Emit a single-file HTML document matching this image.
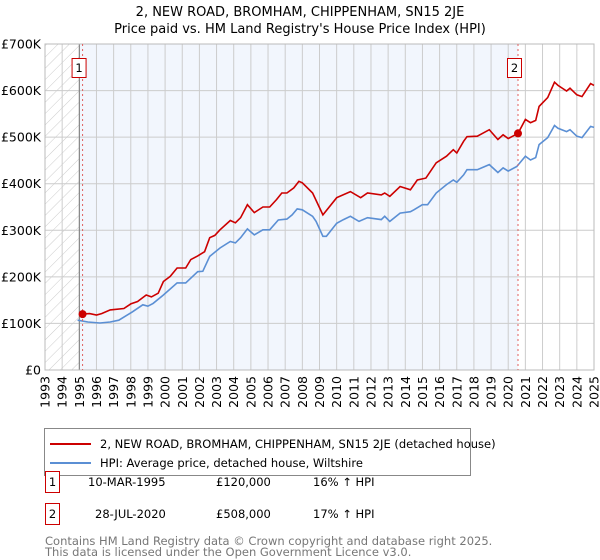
<!DOCTYPE html>
<html><head><meta charset="utf-8"><style>
body{margin:0;background:#fff;font-family:"Liberation Sans","DejaVu Sans",sans-serif;}
svg{display:block}
</style></head><body>
<svg width="600" height="560" xmlns="http://www.w3.org/2000/svg" font-family="DejaVu Sans, Liberation Sans, sans-serif">
<defs>
<pattern id="hatch" width="8" height="8" patternUnits="userSpaceOnUse" patternTransform="rotate(45)">
<line x1="0" y1="0" x2="0" y2="8" stroke="#ccc" stroke-width="1"/></pattern>
</defs>
<text x="300" y="16" text-anchor="middle" font-size="13">2, NEW ROAD, BROMHAM, CHIPPENHAM, SN15 2JE</text>
<text x="300" y="33" text-anchor="middle" font-size="13">Price paid vs. HM Land Registry's House Price Index (HPI)</text>
<g id="plot"></g>
<g id="legend">
<rect x="44.5" y="428.5" width="426" height="47" fill="#fff" stroke="#888"/>
<line x1="50" y1="444" x2="91" y2="444" stroke="#cc0000" stroke-width="2"/>
<text x="100" y="448" font-size="11.5">2, NEW ROAD, BROMHAM, CHIPPENHAM, SN15 2JE (detached house)</text>
<line x1="50" y1="463" x2="91" y2="463" stroke="#5b8fd4" stroke-width="2"/>
<text x="100" y="467" font-size="11.5">HPI: Average price, detached house, Wiltshire</text>
</g>
<g font-size="11.5">
<rect x="45.5" y="471.5" width="14" height="21" fill="#fff" stroke="#cc0000"/>
<text x="52.5" y="486" text-anchor="middle">1</text>
<text x="88" y="486">10-MAR-1995</text>
<text x="216" y="486">£120,000</text>
<text x="313" y="486">16% ↑ HPI</text>
<rect x="45.5" y="503.5" width="14" height="21" fill="#fff" stroke="#cc0000"/>
<text x="52.5" y="518" text-anchor="middle">2</text>
<text x="95" y="518">28-JUL-2020</text>
<text x="216" y="518">£508,000</text>
<text x="313" y="518">17% ↑ HPI</text>
</g>
<text x="45" y="545" font-size="11.5" fill="#777">Contains HM Land Registry data © Crown copyright and database right 2025.</text>
<text x="45" y="556" font-size="11.5" fill="#777">This data is licensed under the Open Government Licence v3.0.</text>
</svg>
<script>
const yTicks=[0,100,200,300,400,500,600,700];
const yTickLabels=["£0","£100K","£200K","£300K","£400K","£500K","£600K","£700K"];
const xYears=[1993,1994,1995,1996,1997,1998,1999,2000,2001,2002,2003,2004,2005,2006,2007,2008,2009,2010,2011,2012,2013,2014,2015,2016,2017,2018,2019,2020,2021,2022,2023,2024,2025];
const hpiDates=[1994.9,1995.5,1996.2,1996.8,1997.3,1998.1,1998.7,1999.0,1999.3,1999.9,2000.7,2001.2,2001.9,2002.2,2002.6,2003.2,2003.8,2004.1,2004.4,2004.8,2005.2,2005.7,2006.1,2006.6,2007.1,2007.4,2007.7,2008.0,2008.6,2008.8,2009.2,2009.4,2010.0,2010.4,2010.8,2011.3,2011.8,2012.6,2012.8,2013.1,2013.7,2014.3,2014.5,2015.0,2015.3,2015.8,2016.4,2016.8,2017.0,2017.4,2017.6,2018.2,2018.9,2019.4,2019.7,2020.0,2020.5,2021.0,2021.3,2021.6,2021.8,2022.3,2022.7,2022.9,2023.4,2023.6,2024.0,2024.3,2024.8,2025.0];
const hpiValues=[107,103,101,103,107,125,140,137,143,161,187,187,211,212,244,262,276,273,284,303,290,301,301,322,324,333,346,344,330,319,287,287,315,323,330,319,327,323,330,319,337,340,344,355,355,380,398,408,403,419,430,430,441,424,434,427,437,459,451,456,484,499,525,519,512,516,502,499,523,521];
const priceDates=[1995.2,1995.6,1996.0,1996.3,1996.8,1997.6,1998.0,1998.4,1998.9,1999.2,1999.6,1999.9,2000.3,2000.7,2001.2,2001.5,2001.9,2002.3,2002.6,2002.9,2003.2,2003.8,2004.1,2004.4,2004.8,2005.2,2005.7,2006.1,2006.5,2006.8,2007.1,2007.5,2007.8,2008.0,2008.6,2009.2,2010.0,2010.8,2011.4,2011.8,2012.6,2012.8,2013.1,2013.7,2014.3,2014.7,2015.2,2015.8,2016.4,2016.8,2017.0,2017.4,2017.6,2018.2,2018.9,2019.4,2019.7,2020.0,2020.57,2021.0,2021.3,2021.6,2021.8,2022.3,2022.7,2022.9,2023.4,2023.6,2024.0,2024.3,2024.8,2025.0];
const priceValues=[120,121,118,121,129,132,142,147,161,157,165,190,201,219,219,237,245,254,284,289,301,321,316,327,355,338,350,350,366,380,380,391,405,402,380,333,370,383,370,380,376,380,373,394,387,408,412,445,459,473,466,491,501,502,516,495,505,497,508,538,531,536,566,585,618,611,599,605,591,587,615,611];
const saleDates=[1995.19,2020.57];
const saleValues=[120,508];
const saleLabels=["1","2"];

const NS="http://www.w3.org/2000/svg";
const X0=45,X1=594,Y0=370,Y1=44;
const xs=y=>X0+(y-1993)/(2025-1993)*(X1-X0);
const ys=v=>Y0-v/700*(Y0-Y1);
const plot=document.getElementById('plot');
function mk(tag,attrs,parent){const e=document.createElementNS(NS,tag);for(const k in attrs)e.setAttribute(k,attrs[k]);(parent||plot).appendChild(e);return e;}
const bg=mk('rect',{x:X0,y:Y1,width:X1-X0,height:Y0-Y1,fill:'#fff'});


const hatch=mk('rect',{x:X0,y:Y1,width:xs(1995)-X0,height:Y0-Y1,fill:'url(#hatch)'});


const shade=mk('rect',{x:xs(1995),y:Y1,width:xs(saleDates[1])-xs(1995),height:Y0-Y1,fill:'#f2f6fd'});


xYears.forEach(yr=>{const l=mk('line',{x1:xs(yr),x2:xs(yr),y1:Y1,y2:Y0,stroke:'#ccc','stroke-width':1});


const t=mk('text',{x:0,y:0,'font-size':12.5,'text-anchor':'end',transform:`translate(${xs(yr)+4.5},${Y0+6}) rotate(-90)`});
t.textContent=yr;

});
yTicks.forEach((v,i)=>{const l=mk('line',{x1:X0,x2:X1,y1:ys(v),y2:ys(v),stroke:'#ccc','stroke-width':1});


const t=mk('text',{x:41,y:ys(v)+4.5,'font-size':12.5,'text-anchor':'end'});
t.textContent=yTickLabels[i];

});
const vl=mk('line',{x1:xs(1995),x2:xs(1995),y1:Y1,y2:Y0,stroke:'#777','stroke-width':1});


const frame=mk('rect',{x:X0,y:Y1,width:X1-X0,height:Y0-Y1,fill:'none',stroke:'#bbb'});


const pts=(d,v)=>d.map((t,i)=>xs(t).toFixed(1)+','+ys(v[i]).toFixed(1)).join(' ');
const hl=mk('polyline',{points:pts(hpiDates,hpiValues),fill:'none',stroke:'#5b8fd4','stroke-width':1.6});


const pl=mk('polyline',{points:pts(priceDates,priceValues),fill:'none',stroke:'#cc0000','stroke-width':1.6});


saleDates.forEach((d,i)=>{const dl=mk('line',{x1:xs(d),x2:xs(d),y1:Y1,y2:Y0,stroke:'#e06060','stroke-dasharray':'2,3'});


const c=mk('circle',{cx:xs(d),cy:ys(saleValues[i]),r:4,fill:'#cc0000'});


const r=mk('rect',{x:xs(d)-10.5,y:58.5,width:14,height:19,fill:'#fff',stroke:'#cc0000'});


const t=mk('text',{x:xs(d)-3.5,y:72,'font-size':11.5,'text-anchor':'middle'});
t.textContent=saleLabels[i];

});
</script>
</body></html>
